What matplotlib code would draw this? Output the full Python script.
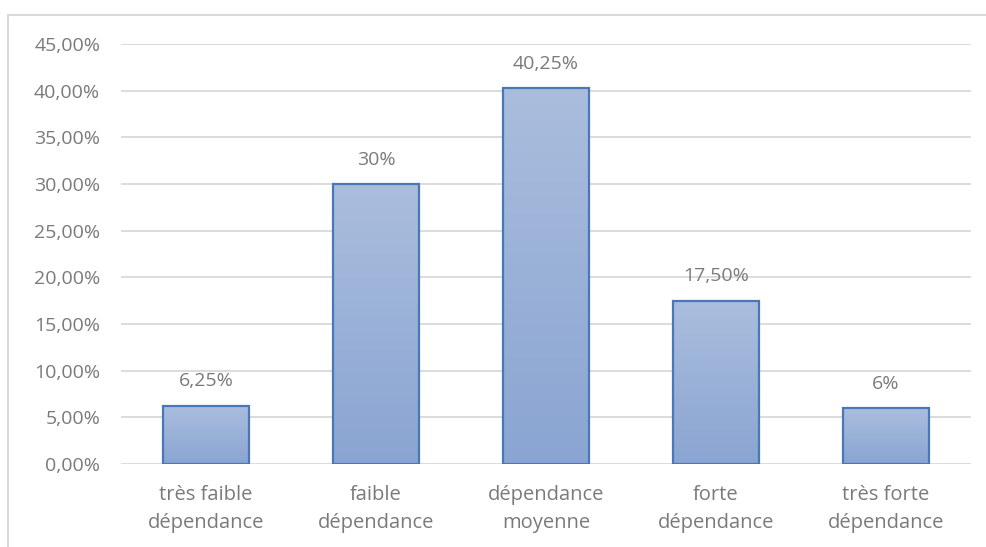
import matplotlib
matplotlib.use("Agg")
import matplotlib.pyplot as plt
import numpy as np
from matplotlib.patches import Rectangle
from matplotlib.colors import LinearSegmentedColormap

categories = ["très faible\ndépendance", "faible\ndépendance", "dépendance\nmoyenne",
              "forte\ndépendance", "très forte\ndépendance"]
values = [6.25, 30.0, 40.25, 17.5, 6.0]
value_labels = ["6,25%", "30%", "40,25%", "17,50%", "6%"]
yticks = [0, 5, 10, 15, 20, 25, 30, 35, 40, 45]
ytick_labels = ["0,00%", "5,00%", "10,00%", "15,00%", "20,00%", "25,00%",
                "30,00%", "35,00%", "40,00%", "45,00%"]

plt.rcParams["font.family"] = ["Open Sans", "DejaVu Sans"]
text_color = "#7a7a7a"
grid_color = "#d9d9d9"

fig = plt.figure(figsize=(9.86, 5.47), dpi=100)
ax = fig.add_axes([121 / 986, 1 - 464 / 547, 850 / 986, (464 - 44) / 547])

# outer chart frame (left and top edges visible)
fig.patches.append(Rectangle((8 / 986, -0.2), 1.2, 1.2 - 15 / 547,
                             transform=fig.transFigure, fill=False,
                             edgecolor="#d9d9d9", linewidth=1.5, zorder=0))

x = np.arange(len(categories))
bars = ax.bar(x, values, width=0.506, facecolor="none", edgecolor="#4a77b8",
              linewidth=1.6, zorder=3)

cmap = LinearSegmentedColormap.from_list("bar", ["#8aa5d2", "#aabddd"])
grad = np.linspace(0, 1, 256).reshape(-1, 1)
for b in bars:
    x0, w, h = b.get_x(), b.get_width(), b.get_height()
    im = ax.imshow(grad, extent=(x0, x0 + w, 0, h), origin="lower", cmap=cmap,
                   aspect="auto", zorder=2)
    im.set_clip_path(b)

for xi, v, lab in zip(x, values, value_labels):
    ax.annotate(lab, (xi, v), xytext=(0, 11), textcoords="offset points",
                ha="center", va="bottom", fontsize=14, color=text_color)

ax.set_xlim(-0.5, len(categories) - 0.5)
ax.set_ylim(0, 45)
ax.set_yticks(yticks)
ax.set_yticklabels(ytick_labels)
ax.set_xticks(x)
ax.set_xticklabels(categories, linespacing=1.55)
ax.tick_params(axis="y", length=0, pad=15, labelsize=14, labelcolor=text_color)
ax.tick_params(axis="x", length=0, pad=15, labelsize=14.5, labelcolor=text_color)
ax.yaxis.grid(True, color=grid_color, linewidth=1.3, zorder=0)
ax.set_axisbelow(True)
for s in ax.spines.values():
    s.set_visible(False)

fig.savefig("out.png", dpi=100)
